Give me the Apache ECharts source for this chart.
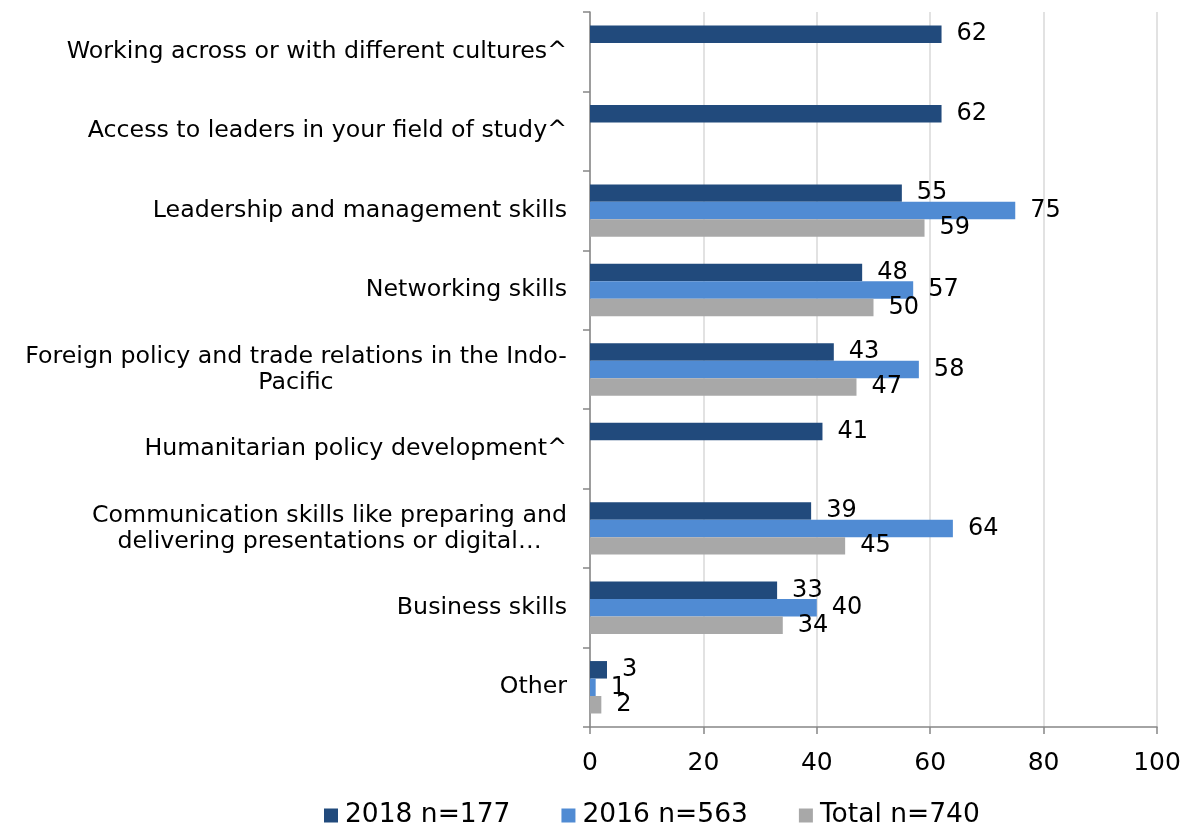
<!DOCTYPE html>
<html>
<head>
<meta charset="utf-8">
<script src="https://cdn.jsdelivr.net/npm/echarts@6/dist/echarts.min.js"></script>
<style>html,body{margin:0;padding:0;background:#fff}#c{width:1194px;height:825px}</style>
</head>
<body>
<div id="c"></div>
<script>
const categories = [
  "Working across or with different cultures^",
  "Access to leaders in your field of study^",
  "Leadership and management skills",
  "Networking skills",
  "Foreign policy and trade relations in the Indo-\nPacific",
  "Humanitarian policy development^",
  "Communication skills like preparing and\ndelivering presentations or digital…",
  "Business skills",
  "Other"
];
const series2018 = [62, 62, 55, 48, 43, 41, 39, 33, 3];
const series2016 = [null, null, 75, 57, 58, null, 64, 40, 1];
const seriesTotal = [null, null, 59, 50, 47, null, 45, 34, 2];
const seriesNames = ["2018 n=177", "2016 n=563", "Total n=740"];
const xTicks = [0, 20, 40, 60, 80, 100];

const FONT = '"DejaVu Sans", Verdana, sans-serif';
const catFontSize = 23.7;
const cv = document.createElement('canvas').getContext('2d');
cv.font = catFontSize + 'px ' + FONT;
const rich = {};
categories.forEach((v, i) => {
  const lines = v.split('\n');
  if (lines.length > 1) {
    const w = Math.ceil(Math.max.apply(null, lines.map(l => cv.measureText(l).width)));
    rich['c' + i] = { fontSize: catFontSize, fontFamily: FONT, color: '#000', align: 'center', width: w, lineHeight: 26 };
  }
});
function fmtCat(v, i) {
  const lines = v.split('\n');
  if (lines.length === 1) return v;
  return lines.map(l => '{c' + i + '|' + l + '}').join('\n');
}

const colors = ['#214a7c', '#508bd3', '#a8a8a8'];
const chart = echarts.init(document.getElementById('c'));
function mk(name, data, color) {
  return {
    name: name, type: 'bar', data: data,
    barGap: '0%', barCategoryGap: '34%',
    itemStyle: { color: color },
    label: { show: true, position: 'right', distance: 15, color: '#000', fontSize: 24, fontFamily: FONT }
  };
}
chart.setOption({
  animation: false,
  color: colors,
  grid: { left: 590, right: 37, top: 12, bottom: 98, containLabel: false },
  xAxis: {
    type: 'value', min: 0, max: 100, interval: 20,
    axisLine: { show: true, lineStyle: { color: '#868686', width: 1.5 } },
    axisTick: { show: true, length: 7, lineStyle: { color: '#868686', width: 1.5 } },
    splitLine: { show: true, lineStyle: { color: '#d9d9d9', width: 1.5 } },
    axisLabel: { fontSize: 25, color: '#000', fontFamily: FONT, margin: 24 }
  },
  yAxis: {
    type: 'category', data: categories, inverse: true,
    axisLine: { show: true, lineStyle: { color: '#868686', width: 1.5 } },
    axisTick: { show: true, length: 7, lineStyle: { color: '#868686', width: 1.5 } },
    axisLabel: {
      fontSize: catFontSize, color: '#000', fontFamily: FONT, margin: 23, lineHeight: 26,
      formatter: fmtCat,
      rich: rich
    }
  },
  legend: {
    top: 797, left: 319, itemWidth: 14, itemHeight: 14, itemGap: 51, icon: 'rect',
    textStyle: { fontSize: 26.5, color: '#000', fontFamily: FONT, padding: [0, 0, 0, 2] }
  },
  series: [
    mk(seriesNames[0], series2018, colors[0]),
    mk(seriesNames[1], series2016, colors[1]),
    mk(seriesNames[2], seriesTotal, colors[2])
  ]
});
</script>
</body>
</html>
